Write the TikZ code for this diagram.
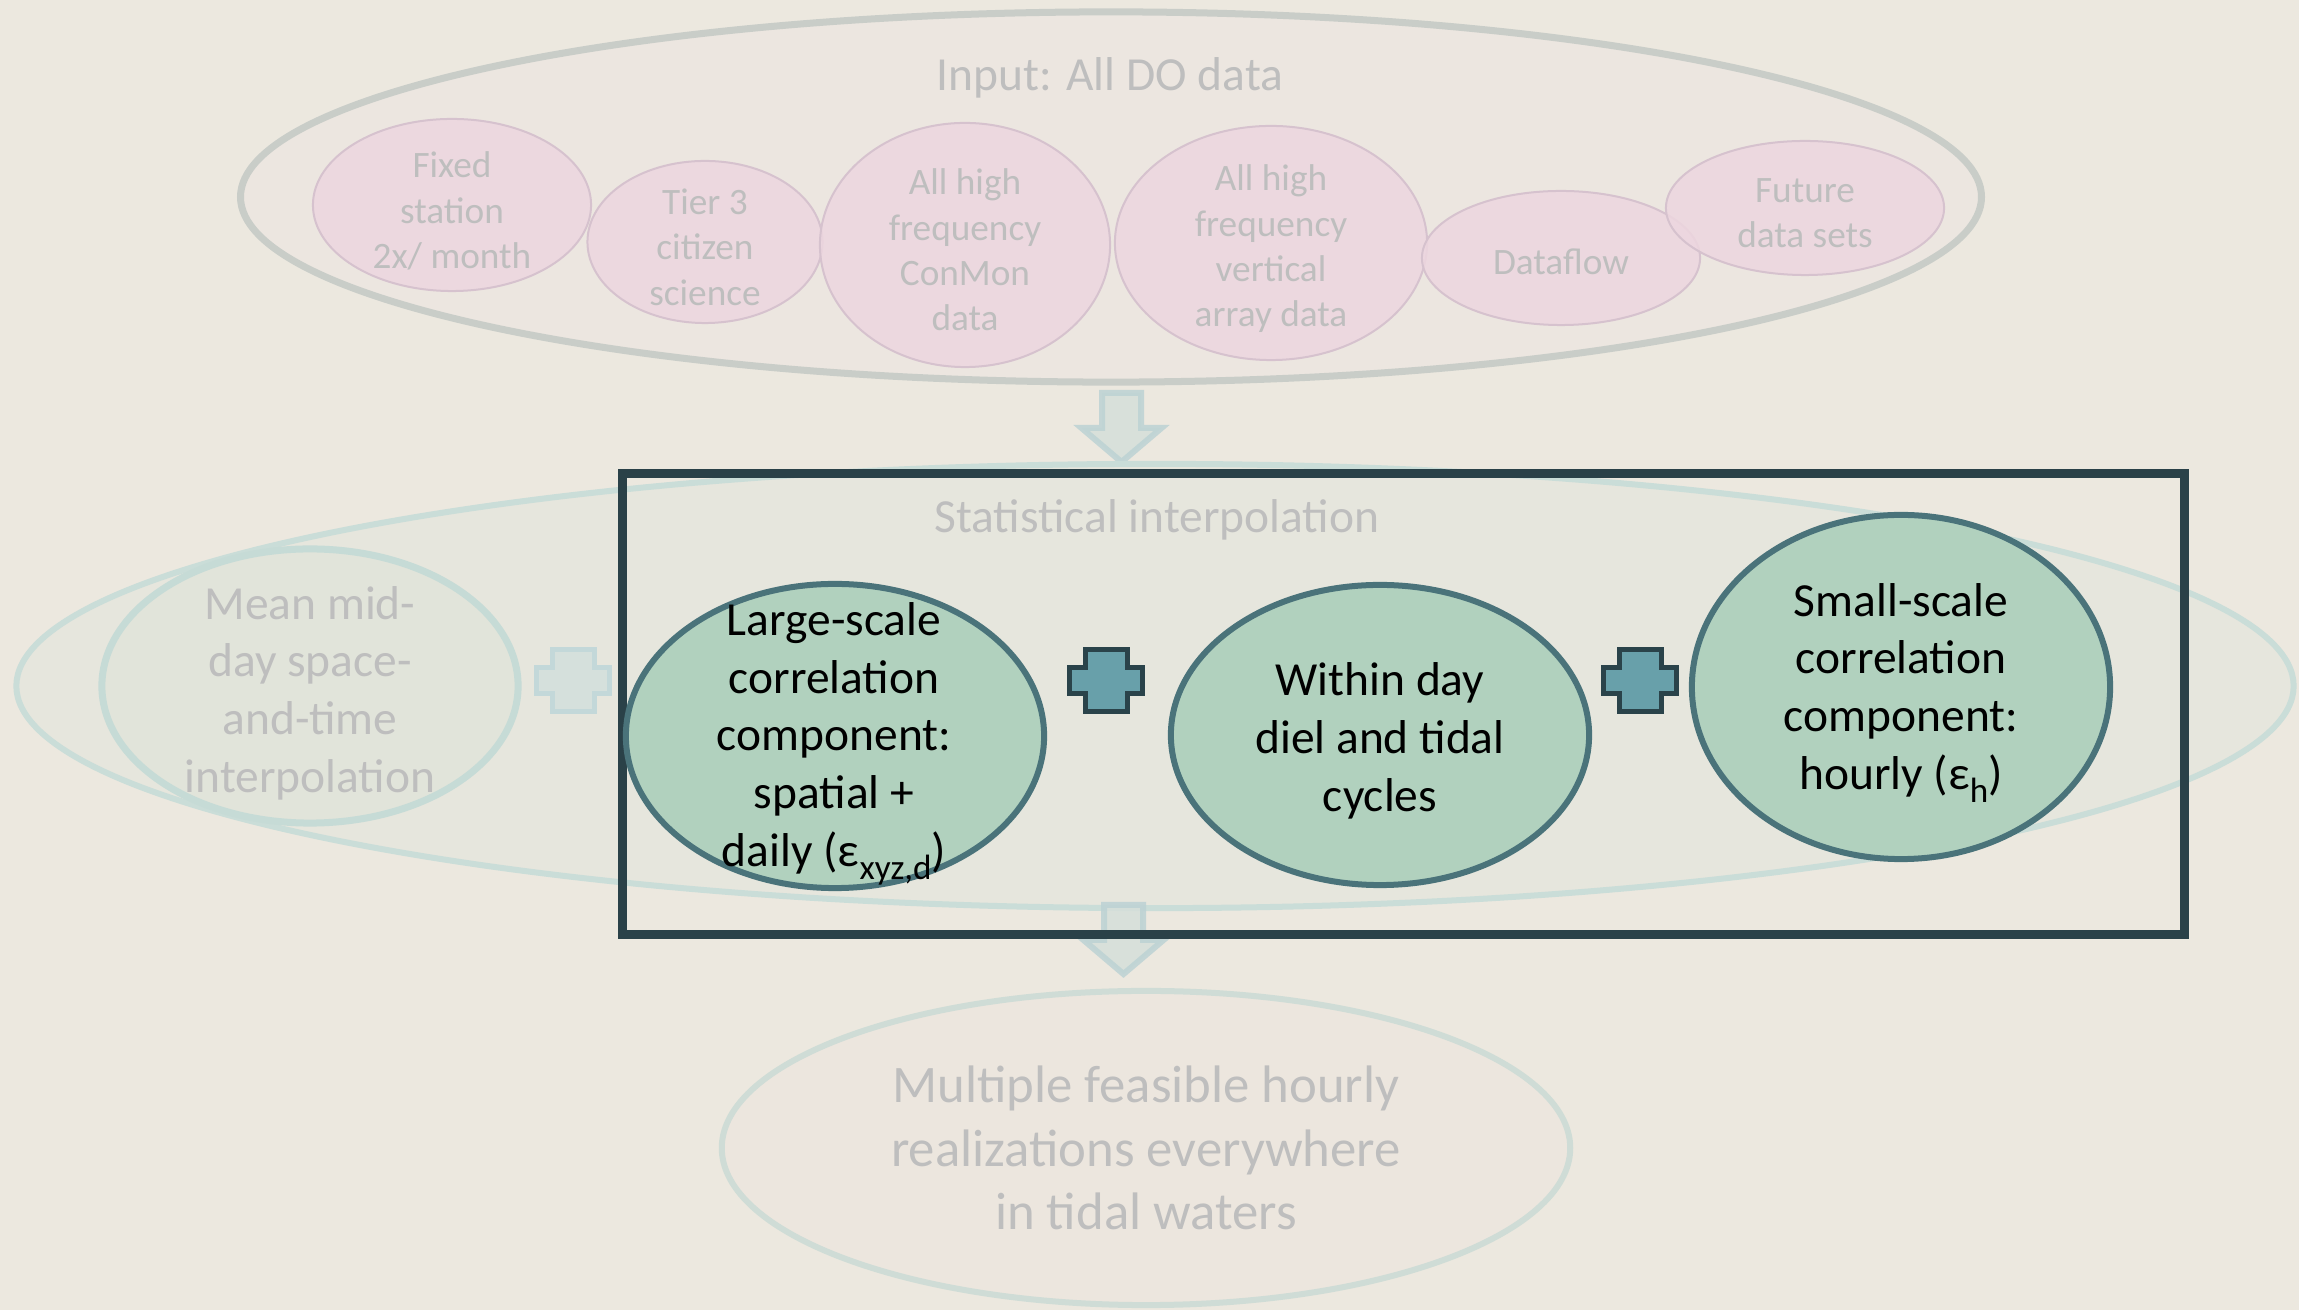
\documentclass[tikz,border=0pt]{standalone}
\usepackage{fontspec}
\setmainfont{Carlito}
\usetikzlibrary{shapes.geometric}
\definecolor{bgc}{RGB}{236,232,223}
\definecolor{inputfill}{RGB}{236,230,224}
\definecolor{inputline}{RGB}{201,205,200}
\definecolor{pinkfill}{RGB}{237,214,223}
\definecolor{pinkline}{RGB}{214,194,206}
\definecolor{greytext}{RGB}{190,190,190}
\definecolor{midfill}{RGB}{230,230,221}
\definecolor{midline}{RGB}{202,221,216}
\definecolor{meanfill}{RGB}{222,227,217}
\definecolor{meanline}{RGB}{198,219,214}
\definecolor{fadefill}{RGB}{213,224,220}
\definecolor{fadeline}{RGB}{195,216,217}
\definecolor{arrfill}{RGB}{213,223,218}
\definecolor{arrline}{RGB}{188,210,212}
\definecolor{greenfill}{RGB}{177,209,190}
\definecolor{greenline}{RGB}{74,115,122}
\definecolor{plusfill}{RGB}{104,160,170}
\definecolor{plusline}{RGB}{42,67,74}
\definecolor{rectline}{RGB}{42,65,72}
\definecolor{botline}{RGB}{207,220,214}
\definecolor{botfill}{RGB}{236,230,222}
\newcommand{\lowsub}[1]{\raisebox{-0.6ex}{\fontsize{10}{10}\selectfont #1}}
\begin{document}
\begin{tikzpicture}[x=0.01cm,y=-0.01cm,
  ell/.style={ellipse, inner sep=0pt, outer sep=0pt},
  inputell/.style={ell, draw=inputline, line width=0.07cm, fill=inputfill},
  pinkell/.style={ell, draw=pinkline, line width=0.02cm, fill=pinkfill, fill opacity=0.85},
  midell/.style={ell, draw=midline, line width=0.06cm, fill=midfill},
  meanell/.style={ell, draw=meanline, line width=0.07cm, fill=meanfill, fill opacity=0.6},
  greenell/.style={ell, draw=greenline, line width=0.06cm, fill=greenfill},
  botell/.style={ell, draw=botline, line width=0.06cm, fill=botfill},
  framebox/.style={draw=rectline, line width=0.09cm},
  smalltxt/.style={text=greytext, align=center, inner sep=0pt, font=\fontsize{10.6}{12.9}\selectfont},
  greytxt/.style={text=greytext, align=center, inner sep=0pt, font=\fontsize{13.5}{16.4}\selectfont},
  maintxt/.style={text=black, align=center, inner sep=0pt, font=\fontsize{13.5}{16.4}\selectfont},
  bigtxt/.style={text=greytext, align=center, inner sep=0pt, font=\fontsize{15}{18.1}\selectfont},
  arrowsty/.style={draw=arrline, fill=arrfill, line width=0.06cm, opacity=0.85, line join=miter},
  fadeplus/.style={draw=fadeline, fill=fadefill, line width=0.05cm},
  darkplus/.style={draw=plusline, fill=plusfill, line width=0.05cm},
  pics/downarrow/.style={code={
    \draw[arrowsty] (-19.5,0) -- (19.5,0) -- (19.5,35) -- (40,35) -- (0,69) -- (-40,35) -- (-19.5,35) -- cycle;}},
  pics/plusmark/.style={code={
    \draw[#1] (-21,-31) -- (21,-31) -- (21,-13) -- (36.5,-13) -- (36.5,13) -- (21,13) -- (21,31) -- (-21,31) -- (-21,13) -- (-36.5,13) -- (-36.5,-13) -- (-21,-13) -- cycle;}}
]
\useasboundingbox (0,0) rectangle (2299,1310);
\fill[bgc] (0,0) rectangle (2299,1310);

% input group
\node[inputell, minimum width=17.40cm, minimum height=3.70cm] (input) at (1111,197) {};
\node[pinkell, minimum width=2.78cm, minimum height=1.72cm] (fixed) at (452,205) {};
\node[pinkell, minimum width=2.35cm, minimum height=1.62cm] (tier) at (705,242) {};
\node[pinkell, minimum width=2.90cm, minimum height=2.44cm] (conmon) at (965,245) {};
\node[pinkell, minimum width=3.12cm, minimum height=2.34cm] (vert) at (1271,243) {};
\node[pinkell, minimum width=2.78cm, minimum height=1.34cm] (dataflow) at (1561,258) {};
\node[pinkell, minimum width=2.78cm, minimum height=1.34cm] (future) at (1805,208) {};

\node[greytxt] (inputtxt) at (1110,78) {Input: All DO data};
\node[smalltxt] (fixedtxt) at (452,211) {Fixed\\station\\2x/ month};
\node[smalltxt] (tiertxt) at (705,247) {Tier 3\\citizen\\science};
\node[smalltxt] (conmontxt) at (965,250) {All high\\frequency\\ConMon\\data};
\node[smalltxt] (verttxt) at (1271,249) {All high\\frequency\\vertical\\array data};
\node[smalltxt] (dataflowtxt) at (1561,262) {Dataflow};
\node[smalltxt] (futuretxt) at (1805,213) {Future\\data sets};

% arrow 1
\coordinate (a1) at (1121.5,393);
\pic at (a1) {downarrow};

% statistical interpolation group
\node[midell, minimum width=22.76cm, minimum height=4.44cm] (mid) at (1155,686) {};
\node[meanell, minimum width=4.16cm, minimum height=2.74cm] (mean) at (310,686) {};
\pic at (573,681) {plusmark=fadeplus};

\coordinate (a2) at (1123.5,905);
\pic at (a2) {downarrow};

\draw[framebox] (622,474) rectangle (2184,935);

\node[greenell, minimum width=4.18cm, minimum height=3.04cm] (large) at (835,736) {};
\node[greenell, minimum width=4.18cm, minimum height=3.00cm] (within) at (1380,735) {};
\node[greenell, minimum width=4.18cm, minimum height=3.44cm] (small) at (1901,687) {};
\pic at (1106,681) {plusmark=darkplus};
\pic at (1640,681) {plusmark=darkplus};

\node[greytxt] (stattxt) at (1157,520) {Statistical interpolation};
\node[greytxt] (meantxt) at (310,693) {Mean mid-\\day space-\\and-time\\interpolation};
\node[maintxt] (largetxt) at (834,744) {Large-scale\\correlation\\component:\\spatial +\\daily (ε\lowsub{xyz,d})};
\node[maintxt] (withintxt) at (1380,741) {Within day\\diel and tidal\\cycles};
\node[maintxt] (smalltxtnode) at (1901,693) {Small-scale\\correlation\\component:\\hourly (ε\lowsub{h})};

% output
\node[botell, minimum width=8.48cm, minimum height=3.14cm] (output) at (1146,1148) {};
\node[bigtxt] (outputtxt) at (1146,1148) {Multiple feasible hourly\\realizations everywhere\\in tidal waters};
\end{tikzpicture}
\end{document}
